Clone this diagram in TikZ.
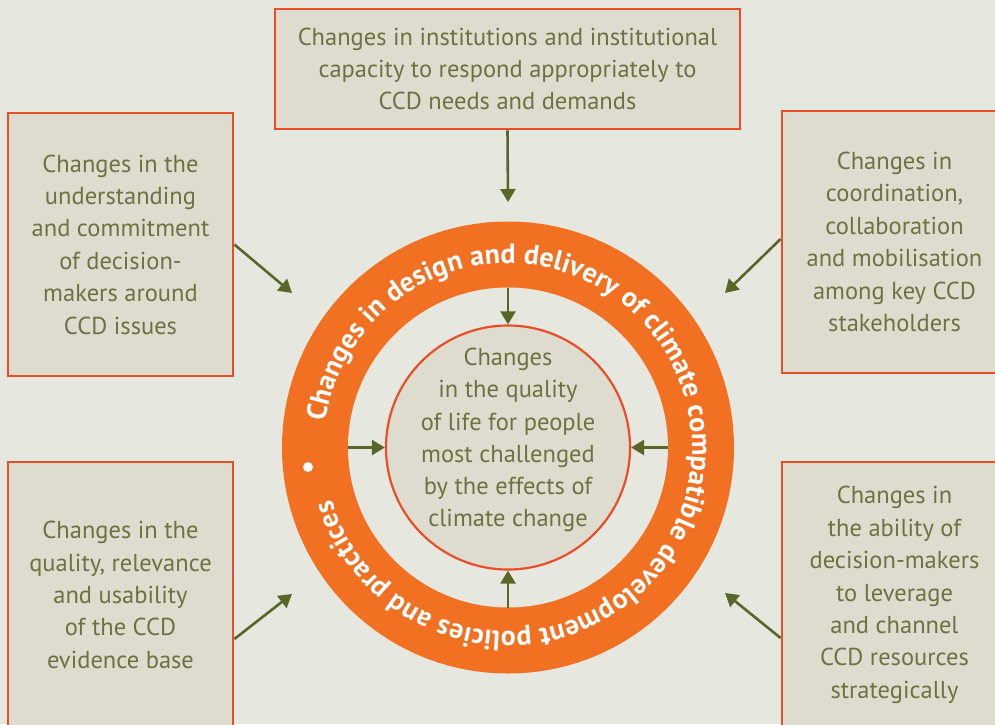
\documentclass[tikz,border=0pt]{standalone}
\usepackage{fontspec}
\setmainfont{PT Sans}
\usetikzlibrary{arrows.meta,decorations.text}
\definecolor{bg}{RGB}{230,231,223}
\definecolor{boxfill}{RGB}{222,220,207}
\definecolor{boxline}{RGB}{234,78,40}
\definecolor{ringc}{RGB}{242,112,34}
\definecolor{olive}{RGB}{108,114,64}
\definecolor{arrc}{RGB}{90,102,40}
\newcommand\ringfont{\bfseries\fontsize{28}{28}\selectfont}
\begin{document}
\begin{tikzpicture}[x=1pt,y=1pt,
  box/.style={draw=boxline, line width=2.8pt, fill=boxfill, rectangle, inner sep=0pt, align=center, text=olive, font=\fontsize{24.5}{32.4}\selectfont},
  arr/.style={draw=arrc, line width=2.6pt, -{Triangle[length=13pt,width=15pt]}},
  disc/.style={circle, inner sep=0pt, outer sep=0pt},
]
\useasboundingbox (0,0) rectangle (995,-724);
\clip (0,0) rectangle (995,-724);
\fill[bg] (0,0) rectangle (995,-724);

% boxes
\node[box, minimum width=465pt, minimum height=120pt] (top) at (507.5,-69)
  {Changes in institutions and institutional\\capacity to respond appropriately to\\CCD needs and demands};
\node[box, minimum width=225pt, minimum height=263pt] (ul) at (120.5,-244.5)
  {Changes in the\\understanding\\and commitment\\of decision-\\makers around\\CCD issues};
\node[box, minimum width=225pt, minimum height=262pt] (ur) at (894.5,-242)
  {Changes in\\coordination,\\collaboration\\and mobilisation\\among key CCD\\stakeholders};
\node[box, minimum width=225pt, minimum height=266pt] (ll) at (120.5,-595)
  {Changes in the\\quality, relevance\\and usability\\of the CCD\\evidence base};
\node[box, minimum width=225pt, minimum height=266pt] (lr) at (894.5,-595)
  {Changes in\\the ability of\\decision-makers\\to leverage\\and channel\\CCD resources\\strategically};

% ring
\node[disc, fill=ringc, minimum size=452pt] (ring) at (508,-447.5) {};
\node[disc, fill=bg, minimum size=320pt] (hole) at (508,-447.5) {};
\node[circle, inner sep=0pt, draw=boxline, line width=2.2pt, fill=boxfill, minimum size=244pt] (core) at (508,-447.5) {};
\node[align=center, text=olive, font=\fontsize{24.5}{32.2}\selectfont] (coretext) at (508,-440)
  {Changes\\in the quality\\of life for people\\most challenged\\by the effects of\\climate change};

\path[decorate, decoration={text along path, text color=white, text align={fit to path},
  text={|\ringfont|Changes in design and delivery of climate compatible development policies and practices}}]
  (508,-447.5) ++(172:184) arc[start angle=172, end angle=-163.5, radius=184];
\fill[white] (308,-467) circle (5pt);

% arrows
\coordinate (tTop) at (508,-202);
\coordinate (tUL) at (292,-293);
\coordinate (tUR) at (725,-293);
\coordinate (tLL) at (292,-594);
\coordinate (tLR) at (725,-593);
\draw[arr] (top.south) -- (tTop);
\draw[arr] (ul.east) -- (tUL);
\draw[arr] ([yshift=3pt]ur.west) -- (tUR);
\draw[arr] ([yshift=-44pt]ll.east) -- (tLL);
\draw[arr] ([yshift=-43pt]lr.west) -- (tLR);
\draw[arr] (hole.north) -- (core.north);
\draw[arr] (hole.south) -- (core.south);
\draw[arr] (hole.west) -- (core.west);
\draw[arr] (hole.east) -- (core.east);
\end{tikzpicture}
\end{document}
